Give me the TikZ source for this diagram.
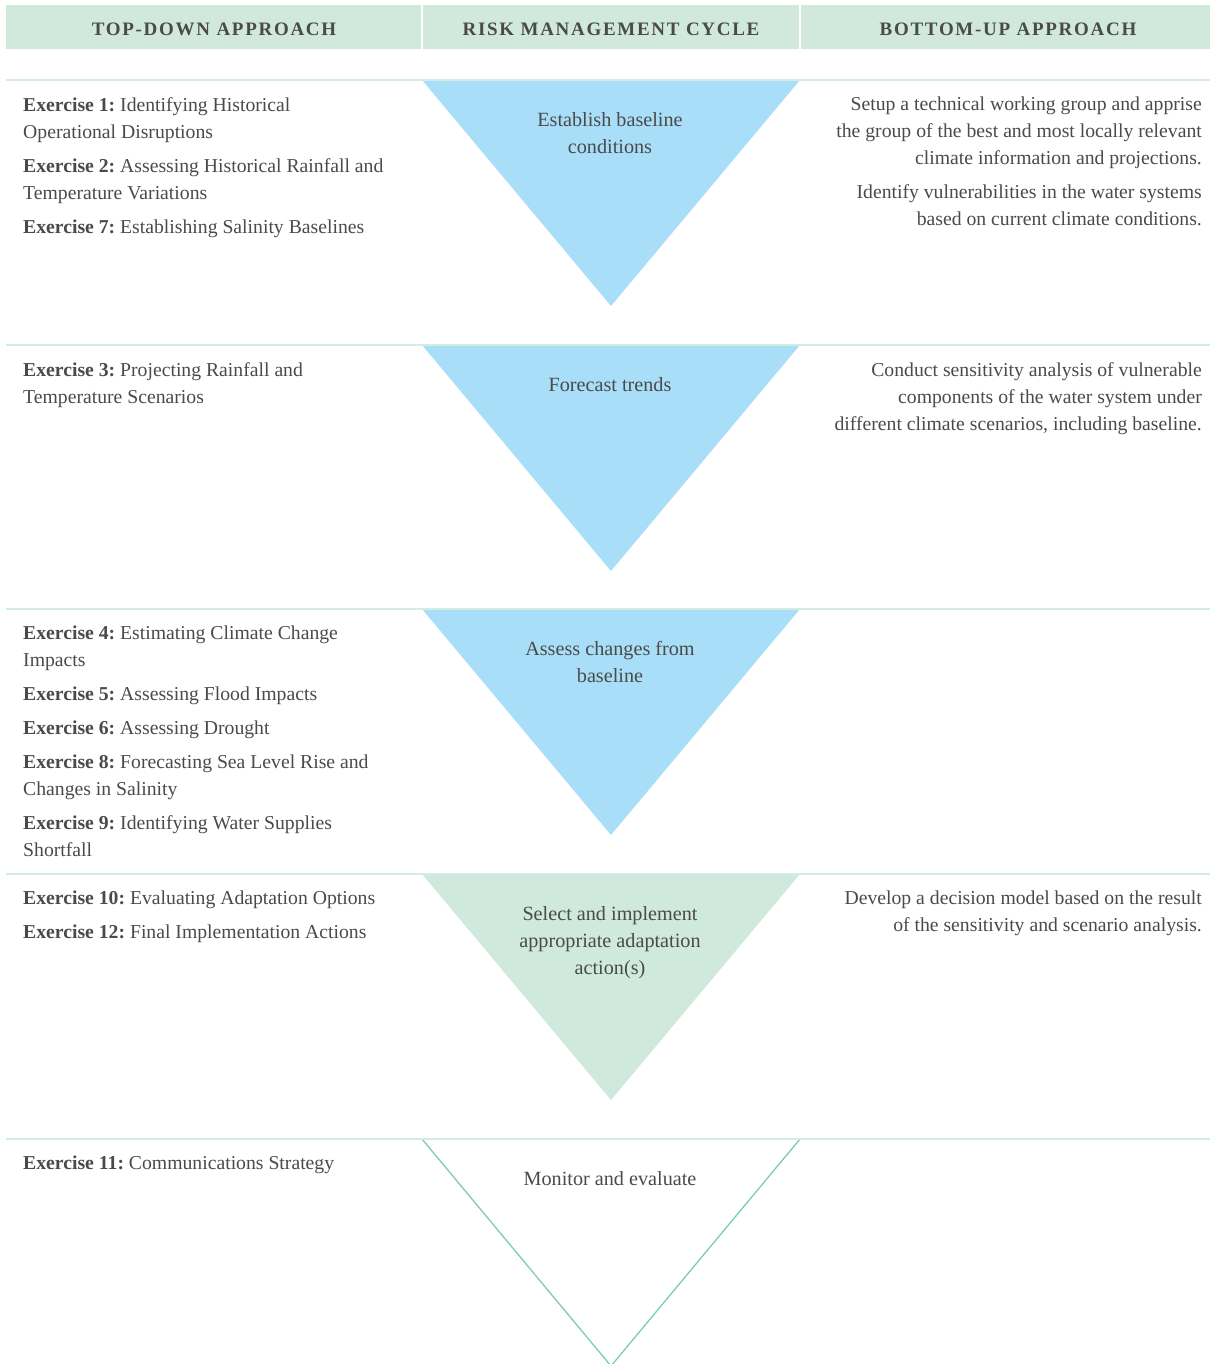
\documentclass[tikz,border=0pt]{standalone}
\usepackage{fontspec}
\setmainfont{Liberation Serif}
\newfontfamily\headfont[LetterSpace=9]{Liberation Serif}
\definecolor{headfill}{HTML}{D0E9DC}
\definecolor{triblue}{HTML}{A9DEF8}
\definecolor{trigreen}{HTML}{CFE9DC}
\definecolor{edgegreen}{HTML}{7ECDA9}
\definecolor{rulegreen}{HTML}{D3EDE2}
\definecolor{txt}{HTML}{4A4A4A}
\frenchspacing
\tikzset{
  headcell/.style={fill=headfill},
  headtext/.style={font=\headfont\bfseries\fontsize{19}{22}\selectfont, text=txt, inner sep=0pt},
  rowline/.style={draw=rulegreen, line width=1.5pt},
  topdown/.style={anchor=north west, align=left, inner sep=0pt, font=\fontsize{19.7}{27}\selectfont, text=txt},
  bottomup/.style={anchor=north east, align=right, inner sep=0pt, font=\fontsize{19.7}{27}\selectfont, text=txt},
  cycle/.style={anchor=north, align=center, inner sep=0pt, font=\fontsize{20.2}{27}\selectfont, text=txt},
  lasttri/.style={draw=edgegreen, line width=1.3pt}
}
\begin{document}
\begin{tikzpicture}[x=1pt,y=-1pt]
  \useasboundingbox (0,0) rectangle (1210,1364);
  \fill[headcell] (6,5) rectangle (421,49);
  \fill[headcell] (423,5) rectangle (799,49);
  \fill[headcell] (801,5) rectangle (1210,49);
  \node[headtext] (htd) at (214,29) {TOP-DOWN APPROACH};
  \node[headtext] (hrm) at (611,29) {RISK MANAGEMENT CYCLE};
  \node[headtext] (hbu) at (1008,29) {BOTTOM-UP APPROACH};

  \foreach \t/\c in {80/triblue, 345/triblue, 609/triblue, 874/trigreen}
    \fill[\c] (422,\t) -- (800,\t) -- (611,{\t+226}) -- cycle;
  \draw[lasttri] (422,1139) -- (611,1366) -- (800,1139);
  \foreach \t in {80, 345, 609, 874, 1139}
    \draw[rowline] (6,\t) -- (1210,\t);

  \node[topdown] (td1) at (23,97) {\textbf{Exercise 1:} Identifying Historical\\
    Operational Disruptions\\[7pt]
    \textbf{Exercise 2:} Assessing Historical Rainfall and\\
    Temperature Variations\\[7pt]
    \textbf{Exercise 7:} Establishing Salinity Baselines};
  \node[topdown] (td2) at (23,362) {\textbf{Exercise 3:} Projecting Rainfall and\\
    Temperature Scenarios};
  \node[topdown] (td3) at (23,626) {\textbf{Exercise 4:} Estimating Climate Change\\
    Impacts\\[7pt]
    \textbf{Exercise 5:} Assessing Flood Impacts\\[7pt]
    \textbf{Exercise 6:} Assessing Drought\\[7pt]
    \textbf{Exercise 8:} Forecasting Sea Level Rise and\\
    Changes in Salinity\\[7pt]
    \textbf{Exercise 9:} Identifying Water Supplies\\
    Shortfall};
  \node[topdown] (td4) at (23,891) {\textbf{Exercise 10:} Evaluating Adaptation Options\\[7pt]
    \textbf{Exercise 12:} Final Implementation Actions};
  \node[topdown] (td5) at (23,1156) {\textbf{Exercise 11:} Communications Strategy};

  \node[cycle] (rm1) at (610,112) {Establish baseline\\conditions};
  \node[cycle] (rm2) at (610,377) {Forecast trends};
  \node[cycle] (rm3) at (610,641) {Assess changes from\\baseline};
  \node[cycle] (rm4) at (610,906) {Select and implement\\appropriate adaptation\\action(s)};
  \node[cycle] (rm5) at (610,1171) {Monitor and evaluate};

  \node[bottomup] (bu1) at (1202,97) {Setup a technical working group and apprise\\
    the group of the best and most locally relevant\\
    climate information and projections.\\[7pt]
    Identify vulnerabilities in the water systems\\
    based on current climate conditions.};
  \node[bottomup] (bu2) at (1202,362) {Conduct sensitivity analysis of vulnerable\\
    components of the water system under\\
    different climate scenarios, including baseline.};
  \node[bottomup] (bu4) at (1202,891) {Develop a decision model based on the result\\
    of the sensitivity and scenario analysis.};
\end{tikzpicture}
\end{document}
